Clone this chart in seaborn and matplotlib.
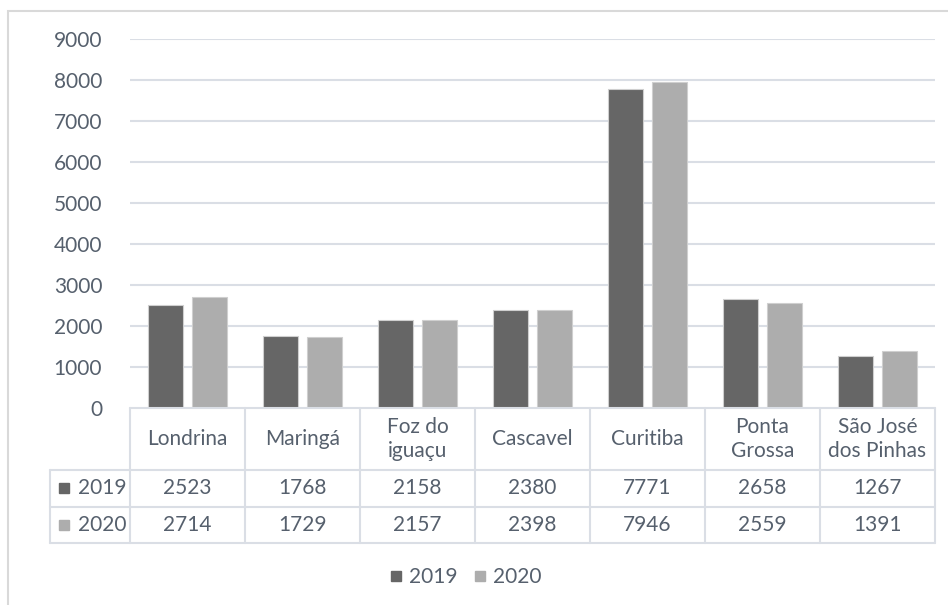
import pandas as pd
import seaborn as sns
import matplotlib.pyplot as plt
from matplotlib.patches import Rectangle
from matplotlib.lines import Line2D

# data
cidades = ['Londrina', 'Maringá', 'Foz do\niguaçu', 'Cascavel', 'Curitiba',
           'Ponta\nGrossa', 'São José\ndos Pinhas']
anos = ['2019', '2020']
v2019 = [2523, 1768, 2158, 2380, 7771, 2658, 1267]
v2020 = [2714, 1729, 2157, 2398, 7946, 2559, 1391]
yticks = [0, 1000, 2000, 3000, 4000, 5000, 6000, 7000, 8000, 9000]

cores = {'2019': '#666666', '2020': '#adadad'}
txt = '#56606d'
linha = '#dadee5'
fs = 15

df = pd.DataFrame({
    'cidade': cidades * 2,
    'ano': ['2019'] * len(cidades) + ['2020'] * len(cidades),
    'valor': v2019 + v2020,
})

sns.set_theme(style='white')
plt.rcParams['font.family'] = ['Lato', 'DejaVu Sans']

fig = plt.figure(figsize=(9.48, 6.05), dpi=100)
W, H = 948, 605

# main chart axes (pixel layout from reference)
ax = fig.add_axes([130 / W, 1 - 408 / H, 805 / W, (408 - 39) / H])
sns.barplot(data=df, x='cidade', y='valor', hue='ano', palette=cores,
            width=0.77, gap=0.2, edgecolor='#cfcfcf', linewidth=0.8,
            ax=ax, legend=False, zorder=3)
ax.set_xlim(-0.5, len(cidades) - 0.5)
ax.set_ylim(0, 9000)
ax.set_yticks(yticks)
ax.set_yticklabels([str(t) for t in yticks], fontsize=fs, color=txt)
ax.tick_params(axis='y', length=0, pad=20)
ax.set_xticks([])
ax.set_xlabel('')
ax.set_ylabel('')
for y in yticks[1:]:
    ax.axhline(y, color=linha, lw=1.5, zorder=0)
for s in ax.spines.values():
    s.set_visible(False)

# data table below the chart
tb = fig.add_axes([130 / W, 1 - 543 / H, 805 / W, (543 - 408) / H], sharex=ax)
tb.set_ylim(0, 3.7)
tb.axis('off')
n = len(cidades)
left = -0.5 - 80 / 115
kw = dict(color=linha, lw=1.5, clip_on=False)
# horizontal lines
tb.plot([-0.5, n - 0.5], [3.7, 3.7], **kw)
for y in [2, 1, 0]:
    tb.plot([left, n - 0.5], [y, y], **kw)
# vertical lines
for i in range(n + 1):
    tb.plot([i - 0.5, i - 0.5], [0, 3.7], **kw)
tb.plot([left, left], [0, 2], **kw)

for i, c in enumerate(cidades):
    tb.text(i, 2.85, c, ha='center', va='center', fontsize=fs, color=txt,
            linespacing=1.25)
    tb.text(i, 1.5, str(v2019[i]), ha='center', va='center', fontsize=fs, color=txt)
    tb.text(i, 0.5, str(v2020[i]), ha='center', va='center', fontsize=fs, color=txt)

for row, ano in zip([1.5, 0.5], anos):
    tb.plot([left + 0.12], [row], marker='s', ms=7, color=cores[ano],
            clip_on=False)
    tb.text(left + 0.24, row, ano, ha='left', va='center', fontsize=fs, color=txt)

# legend
handles = [Line2D([], [], marker='s', ls='', ms=7, color=cores[a]) for a in anos]
fig.legend(handles, anos, loc='center', bbox_to_anchor=(465 / W, 1 - 577 / H),
           ncol=2, frameon=False, fontsize=fs, handlelength=0.7,
           handletextpad=0.3, columnspacing=0.7, labelcolor=txt)

# outer chart frame
fig.patches.append(Rectangle((8 / W, -0.1), 1.2, 1.1 - 11 / H,
                             transform=fig.transFigure, fill=False,
                             edgecolor='#d9d9d9', lw=1.5))

fig.savefig('out.png', dpi=100)
